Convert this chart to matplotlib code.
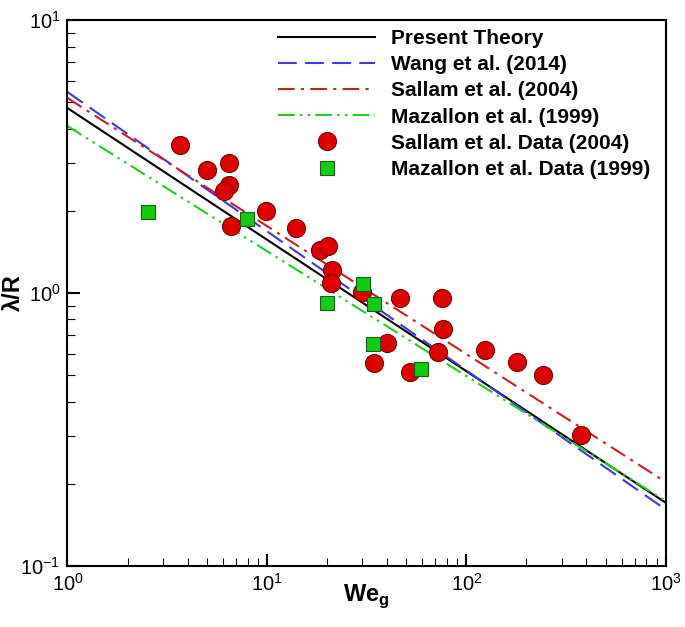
import matplotlib
matplotlib.use('Agg')
import matplotlib.pyplot as plt
import numpy as np

plt.rcParams['font.family'] = ['Liberation Sans', 'DejaVu Sans']
plt.rcParams['mathtext.fontset'] = 'custom'
plt.rcParams['mathtext.rm'] = 'Liberation Sans'
plt.rcParams['mathtext.bf'] = 'Liberation Sans:bold'
plt.rcParams['axes.unicode_minus'] = False

# Sallam et al. data (2004)
sallam_we = [3.66, 5.0, 6.45, 6.45, 6.09, 6.6, 9.9, 14.0, 18.4, 20.2, 21.2, 21.0,
             29.9, 46.4, 75.4, 76.2, 40.0, 34.4, 52.1, 72.0, 124, 179, 242, 375]
sallam_lr = [3.48, 2.82, 2.99, 2.49, 2.36, 1.76, 2.0, 1.73, 1.44, 1.49, 1.21, 1.09,
             1.01, 0.959, 0.959, 0.738, 0.656, 0.555, 0.514, 0.608, 0.618, 0.558, 0.501, 0.302]

# Mazallon et al. data (1999)
mazallon_we = [2.53, 7.94, 20.0, 30.3, 34.4, 34.0, 59.1]
mazallon_lr = [1.98, 1.87, 0.919, 1.08, 0.911, 0.651, 0.527]

# power-law fits  lambda/R = a * We^b
fits = {
    'Present Theory':       (4.76, -0.482),
    'Wang et al. (2014)':   (5.45, -0.510),
    'Sallam et al. (2004)': (5.18, -0.469),
    'Mazallon et al. (1999)': (4.09, -0.458),
}
styles = {
    'Present Theory':       dict(color='black', ls='-'),
    'Wang et al. (2014)':   dict(color='#3a3ae0', ls=(0, (9, 4))),
    'Sallam et al. (2004)': dict(color='#cc2020', ls=(0, (8, 3, 1.5, 3))),
    'Mazallon et al. (1999)': dict(color='#22cc22', ls=(0, (8, 2.5, 1.2, 2.5, 1.2, 2.5))),
}

fig = plt.figure(figsize=(6.85, 6.27), dpi=100)
ax = fig.add_axes([0.0985, 0.0973, 0.8735, 0.8707])

we = np.logspace(0, 3, 200)
for name, (a, b) in fits.items():
    ax.plot(we, a * we ** b, lw=1.5, label=name, **styles[name])

ax.plot(sallam_we, sallam_lr, 'o', ms=13, mfc='#dd0000', mec='#7a0000', mew=0.8,
        ls='none', label='Sallam et al. Data (2004)')
ax.plot(mazallon_we, mazallon_lr, 's', ms=10.5, mfc='#11cc11', mec='#1a5a1a', mew=0.8,
        ls='none', label='Mazallon et al. Data (1999)')

ax.set_xscale('log')
ax.set_yscale('log')
ax.set_xlim(1, 1000)
ax.set_ylim(0.1, 10)

for s in ax.spines.values():
    s.set_linewidth(1.5)
ax.tick_params(which='both', direction='in', top=False, right=False, labelsize=14.5)
ax.tick_params(which='major', length=9, width=1.5, pad=5)
ax.tick_params(which='minor', length=5.5, width=0.8)

ax.set_xlabel(r'$\mathbf{We}_\mathbf{g}$', fontsize=17)
ax.xaxis.set_label_coords(0.5, -0.03)
ax.set_ylabel('λ/R', fontsize=17, fontweight='bold')
ax.yaxis.set_label_coords(-0.071, 0.5)

ax.legend(loc='upper right', bbox_to_anchor=(1.005, 1.018), frameon=False,
          handlelength=4.65, handletextpad=0.75, labelspacing=0.345,
          borderaxespad=0.5, prop={'weight': 'bold', 'size': 15})

fig.savefig('out.png', dpi=100)
